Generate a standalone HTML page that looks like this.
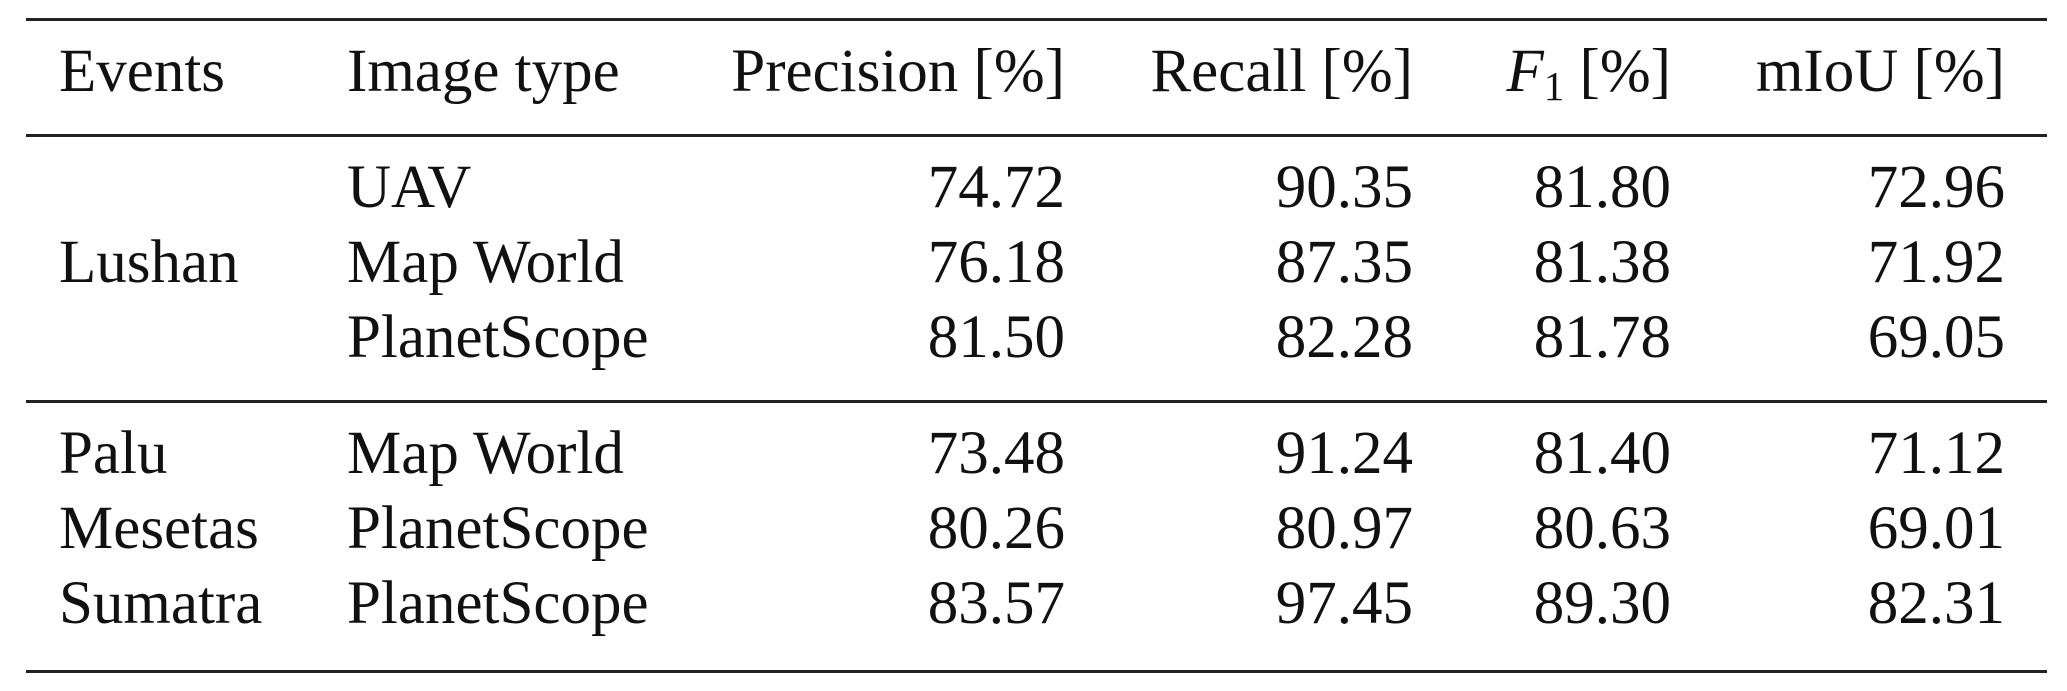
<!DOCTYPE html>
<html><head><meta charset="utf-8"><style>
body{margin:0;background:#fff;}
#c{position:relative;width:2067px;height:691px;overflow:hidden;font-family:"Liberation Serif",serif;font-size:61px;color:#111;}
.t{position:absolute;white-space:nowrap;line-height:1;}
.l{position:absolute;left:26px;width:2021px;height:3px;background:#222;}
sub{font-size:41px;vertical-align:-9px;line-height:0;}
</style></head><body><div id="c">
<div class="l" style="top:18px"></div>
<div class="l" style="top:134px"></div>
<div class="l" style="top:400px"></div>
<div class="l" style="top:670px"></div>
</div>
<script>
const c=document.getElementById('c');
function put(txt,x,base,right){const d=document.createElement('div');d.className='t';d.innerHTML=txt;
d.style.top=(base-0.891*61)+'px';
if(right){d.style.right=(2067-x)+'px';}else d.style.left=x+'px';c.appendChild(d);}
put('Events',59,95);put('Image type',347,95);
put('Precision [%]',1065,95,1);put('Recall [%]',1413,95,1);
put('<i>F</i><sub>1</sub> [%]',1671,95,1);put('mIoU [%]',2005,95,1);
const rows=[
['','UAV','74.72','90.35','81.80','72.96',211],
['Lushan','Map World','76.18','87.35','81.38','71.92',286],
['','PlanetScope','81.50','82.28','81.78','69.05',361],
['Palu','Map World','73.48','91.24','81.40','71.12',477],
['Mesetas','PlanetScope','80.26','80.97','80.63','69.01',552],
['Sumatra','PlanetScope','83.57','97.45','89.30','82.31',627]];
for(const r of rows){const b=r[6];
if(r[0])put(r[0],59,b);put(r[1],347,b);
put(r[2],1065,b,1);put(r[3],1413,b,1);put(r[4],1671,b,1);put(r[5],2005,b,1);}
</script>
</body></html>
